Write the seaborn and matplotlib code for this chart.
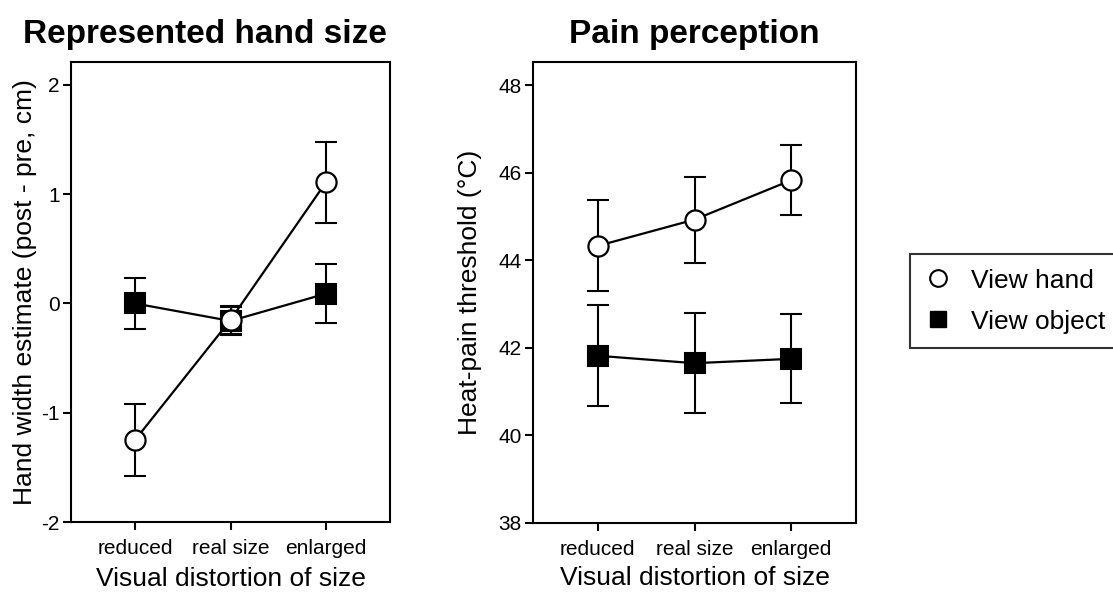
import matplotlib
matplotlib.use("Agg")
import matplotlib.pyplot as plt
from matplotlib.lines import Line2D
import seaborn as sns
import numpy as np

sns.set_theme(style="white")
plt.rcParams['font.family'] = ['Liberation Sans', 'DejaVu Sans']
plt.rcParams['text.color'] = 'black'
plt.rcParams['axes.labelcolor'] = 'black'
plt.rcParams['xtick.color'] = 'black'
plt.rcParams['ytick.color'] = 'black'

conditions = ["reduced", "real size", "enlarged"]
series = ["View hand", "View object"]

# Left panel: hand width estimate (post - pre, cm)
hand_size_view_hand = [-1.25, -0.15, 1.11]
hand_size_view_hand_err = [0.33, 0.13, 0.37]
hand_size_view_object = [0.00, -0.16, 0.09]
hand_size_view_object_err = [0.23, 0.13, 0.27]

# Right panel: heat-pain threshold (°C)
pain_view_hand = [44.33, 44.93, 45.83]
pain_view_hand_err = [1.04, 0.98, 0.80]
pain_view_object = [41.82, 41.65, 41.75]
pain_view_object_err = [1.15, 1.14, 1.02]

W, H = 1113, 592
fig = plt.figure(figsize=(W / 100, H / 100), dpi=100)
fig.patch.set_facecolor("white")

def px_axes(l, r, t, b):
    return fig.add_axes([l / W, 1 - b / H, (r - l) / W, (b - t) / H])

ax1 = px_axes(71, 390, 62, 522)
ax2 = px_axes(533, 856, 62, 523)

x = np.arange(len(conditions))

def draw(ax, obj, obj_err, hand, hand_err, xlabelpad):
    ax.errorbar(x, obj, yerr=obj_err, fmt='none', ecolor='black',
                elinewidth=1.5, capsize=8, capthick=1.5, zorder=1)
    ax.errorbar(x, hand, yerr=hand_err, fmt='none', ecolor='black',
                elinewidth=1.5, capsize=8, capthick=1.5, zorder=1)
    sns.lineplot(x=x, y=obj, ax=ax, color='black', linewidth=1.6,
                 marker='s', markersize=14, markerfacecolor='black',
                 markeredgecolor='black', markeredgewidth=1.5, zorder=3)
    sns.lineplot(x=x, y=hand, ax=ax, color='black', linewidth=1.6,
                 marker='o', markersize=14.5, markerfacecolor='white',
                 markeredgecolor='black', markeredgewidth=1.6, zorder=4)
    ax.set_xlim(-0.67, 2.67)
    ax.set_xticks(x)
    ax.set_xticklabels(conditions)
    for s in ax.spines.values():
        s.set_visible(True)
        s.set_color('black')
        s.set_linewidth(1.5)
    ax.tick_params(axis='both', which='major', direction='out', length=6,
                   width=1.5, color='black', labelsize=15, labelcolor='black',
                   left=True, bottom=True, top=False, right=False)
    ax.tick_params(axis='x', pad=6)
    ax.tick_params(axis='y', pad=2)
    ax.set_xlabel("Visual distortion of size", fontsize=19,
                  labelpad=xlabelpad, color='black')
    ax.grid(False)
    ax.set_facecolor('white')

draw(ax1, hand_size_view_object, hand_size_view_object_err,
     hand_size_view_hand, hand_size_view_hand_err, 7)
ax1.set_ylim(-2, 2.21)
ax1.set_yticks([-2, -1, 0, 1, 2])
ax1.set_yticklabels(["-2", "-1", "0", "1", "2"])
ax1.set_ylabel("Hand width estimate (post - pre, cm)", fontsize=19,
               labelpad=3, color='black')
ax1.set_title("Represented hand size", fontsize=24, fontweight='bold',
              x=0.42, pad=13.5, color='black')

draw(ax2, pain_view_object, pain_view_object_err,
     pain_view_hand, pain_view_hand_err, 5.5)
ax2.set_ylim(38, 48.53)
ax2.set_yticks([38, 40, 42, 44, 46, 48])
ax2.set_ylabel("Heat-pain threshold (°C)", fontsize=19, labelpad=12,
               color='black')
ax2.set_title("Pain perception", fontsize=24, fontweight='bold', pad=14,
              color='black')

handles = [
    Line2D([], [], linestyle='none', marker='o', markersize=12,
           markerfacecolor='white', markeredgecolor='black', markeredgewidth=1.5),
    Line2D([], [], linestyle='none', marker='s', markersize=12,
           markerfacecolor='black', markeredgecolor='black'),
]
leg = fig.legend(handles, series, loc='upper left',
                 bbox_to_anchor=(910 / W, 1 - 254 / H), borderaxespad=0,
                 fontsize=19, frameon=True, fancybox=False, shadow=False,
                 edgecolor='black', handlelength=1.0, handletextpad=0.75,
                 borderpad=0.55, labelspacing=0.65, labelcolor='black')
leg.get_frame().set_linewidth(1.5)

fig.savefig("out.png", dpi=100, facecolor='white')
